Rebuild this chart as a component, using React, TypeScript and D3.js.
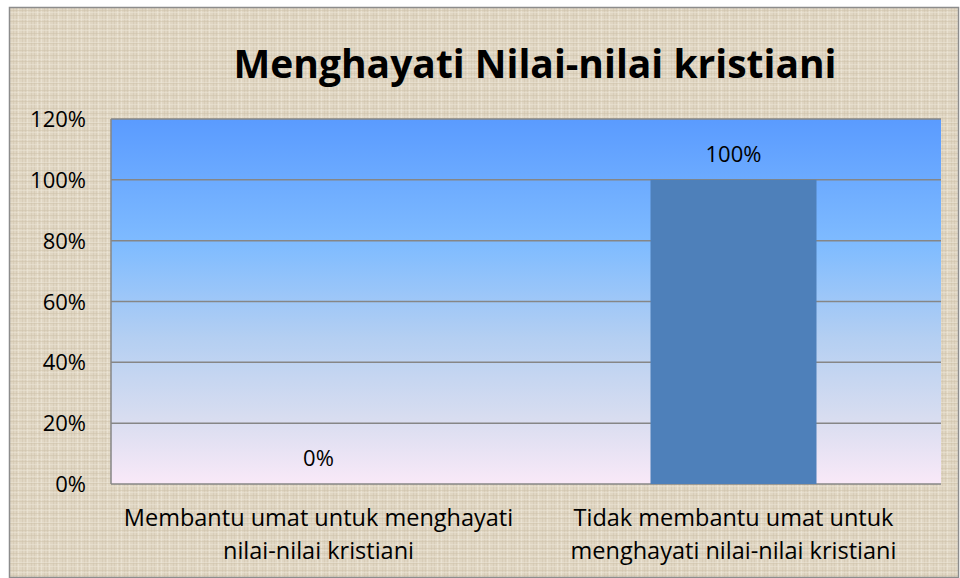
import React from "react"
import * as d3 from "d3"

const categories = [
  ["Membantu umat untuk menghayati", "nilai-nilai kristiani"],
  ["Tidak membantu umat untuk", "menghayati nilai-nilai kristiani"],
]
const values = [0, 1]
const yTicks = [0, 0.2, 0.4, 0.6, 0.8, 1, 1.2]
const title = "Menghayati Nilai-nilai kristiani"

const W = 960
const H = 578
const margin = { top: 119, right: 19, bottom: 94, left: 111 }
const font = "'Open Sans', sans-serif"

// fixed linen-like stripes for the backdrop
const weaveX = [1, 4, 7, 9, 13, 16, 18, 22, 25, 27, 31, 34, 37, 39]
const weaveY = [2, 3, 6, 10, 12, 15, 19, 21, 24, 28, 30, 33, 36, 38]

export default function App() {
  const y = d3.scaleLinear().domain([0, 1.2]).range([H - margin.bottom, margin.top])
  const band = (W - margin.left - margin.right) / values.length
  const pct = d3.format(".0%")

  return (
    <svg width={W} height={H} style={{ position: "absolute", left: 0, top: 0 }}>
      <defs>
        <linearGradient id="plotBg" x1="0" y1="0" x2="0" y2="1">
          <stop offset="0" stopColor="#5a9bff" />
          <stop offset="0.35" stopColor="#80bcff" />
          <stop offset="0.6" stopColor="#b4cff2" />
          <stop offset="0.82" stopColor="#d8ddf0" />
          <stop offset="1" stopColor="#f9e9f8" />
        </linearGradient>
        <pattern id="linen" width="40" height="40" patternUnits="userSpaceOnUse">
          <rect width="40" height="40" fill="#e0d6c3" />
          {weaveX.map((p, i) => (
            <rect key={"x" + i} x={p} y={0} width={1} height={40} fill={i % 3 ? "#d2c6b0" : "#efe8db"} opacity={0.6} />
          ))}
          {weaveY.map((p, i) => (
            <rect key={"y" + i} x={0} y={p} width={40} height={1} fill={i % 2 ? "#cdc1a9" : "#ece5d7"} opacity={0.5} />
          ))}
        </pattern>
      </defs>
      <rect x={0} y={0} width={W} height={H} fill="#ffffff" />
      <rect x={9.5} y={7.5} width={W - 11} height={H - 8} fill="url(#linen)" stroke="#8c8c8c" strokeWidth={1.5} />

      <text x={535} y={78} textAnchor="middle" fontFamily={font} fontWeight="bold" fontSize={39} fill="#000">
        {title}
      </text>

      <rect x={margin.left} y={margin.top} width={W - margin.left - margin.right}
        height={H - margin.top - margin.bottom} fill="url(#plotBg)" />

      {yTicks.map(t => (
        <g key={t}>
          <line x1={margin.left} x2={W - margin.right} y1={y(t)} y2={y(t)} stroke="#868686" strokeWidth={1.5} />
          <text x={86} y={y(t) + 8} textAnchor="end" fontFamily={font} fontSize={22} fill="#000">
            {pct(t)}
          </text>
        </g>
      ))}
      <line x1={margin.left} x2={margin.left} y1={margin.top} y2={H - margin.bottom} stroke="#868686" strokeWidth={1.5} />

      {values.map((v, i) => {
        const bx = margin.left + band * i + band * 0.3
        const bw = band * 0.4
        return (
          <g key={i}>
            {v > 0 && <rect x={bx} y={y(v)} width={bw} height={y(0) - y(v)} fill="#4e80ba" />}
            <text x={bx + bw / 2} y={y(v) - 18} textAnchor="middle" fontFamily={font} fontSize={22} fill="#000">
              {pct(v)}
            </text>
            {categories[i].map((line, j) => (
              <text key={j} x={bx + bw / 2} y={526 + j * 33} textAnchor="middle" fontFamily={font} fontSize={23.5} fill="#000">
                {line}
              </text>
            ))}
          </g>
        )
      })}
    </svg>
  )
}
